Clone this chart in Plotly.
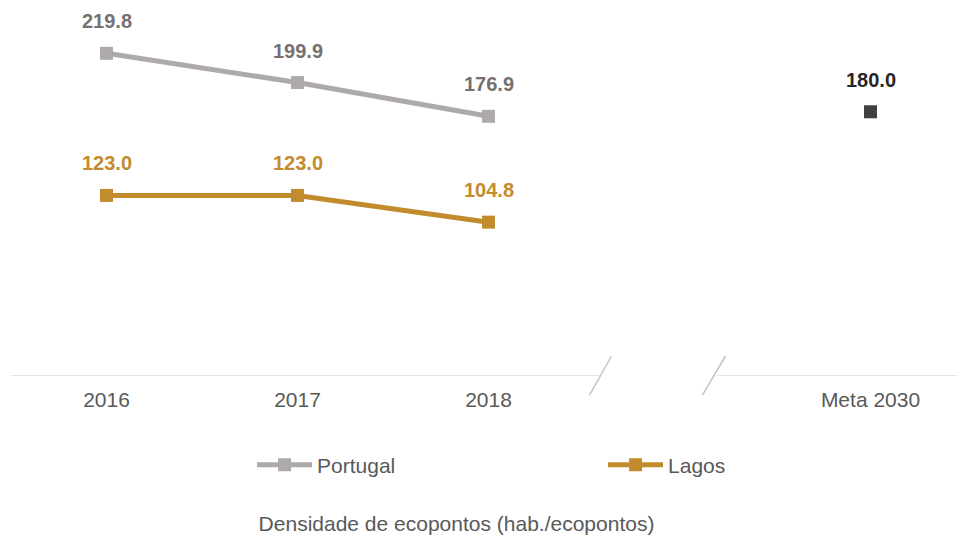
import plotly.graph_objects as go

years = ["2016", "2017", "2018"]
portugal = [219.8, 199.9, 176.9]
lagos = [123.0, 123.0, 104.8]
meta_label = "Meta 2030"
meta_value = 180.0

x_years = [0, 1, 2]
x_meta = 4

GREY = "#aeaaaa"
GREY_TXT = "#767171"
GOLD = "#c28b2d"
DARK = "#404040"
TXT = "#595959"
FONT = "Liberation Sans, Arial, sans-serif"

fig = go.Figure()
fig.add_trace(go.Scatter(x=x_years, y=portugal, mode="lines+markers", name="Portugal",
                         line=dict(color=GREY, width=5),
                         marker=dict(symbol="square", size=13, color=GREY),
                         cliponaxis=False))
fig.add_trace(go.Scatter(x=x_years, y=lagos, mode="lines+markers", name="Lagos",
                         line=dict(color=GOLD, width=5),
                         marker=dict(symbol="square", size=13, color=GOLD),
                         cliponaxis=False))
fig.add_trace(go.Scatter(x=[x_meta], y=[meta_value], mode="markers", showlegend=False,
                         marker=dict(symbol="square", size=13, color=DARK),
                         cliponaxis=False))

for xs, ys, col in ((x_years, portugal, GREY_TXT), (x_years, lagos, GOLD), ([x_meta], [meta_value], "#262626")):
    for xv, yv in zip(xs, ys):
        fig.add_annotation(x=xv, y=yv, text=f"<b>{yv:.1f}</b>", showarrow=False,
                           yshift=32, font=dict(size=20, color=col, family=FONT))

# axis baseline with break
line_col = "#d9d9d9"
fig.add_shape(type="line", xref="x", yref="y", x0=-0.5, x1=2.581, y0=0, y1=0,
              line=dict(color=line_col, width=1.5))
fig.add_shape(type="line", xref="x", yref="y", x0=3.194, x1=4.5, y0=0, y1=0,
              line=dict(color=line_col, width=1.5))
for a, b in ((2.529, 2.644), (3.120, 3.241)):
    fig.add_shape(type="line", xref="x", yref="paper", x0=a, x1=b, y0=-0.0518, y1=0.0545,
                  line=dict(color="#c4c4c4", width=1.5))

fig.update_layout(
    width=965, height=539,
    margin=dict(l=3, r=7, t=1, b=171, autoexpand=False),
    paper_bgcolor="white", plot_bgcolor="white",
    font=dict(family=FONT, color=TXT),
    xaxis=dict(range=[-0.5, 4.5], tickvals=x_years + [x_meta], ticktext=years + [meta_label],
               showgrid=False, zeroline=False, showline=False, ticks="",
               tickfont=dict(size=21, color=TXT, family=FONT), ticklabelstandoff=9),
    yaxis=dict(range=[0, 250], visible=False, showgrid=False, zeroline=False),
    legend=dict(orientation="h", x=0.2524, xanchor="left", y=-0.2425, yanchor="middle",
                font=dict(size=21, color=TXT, family=FONT), itemwidth=55,
                entrywidth=281, entrywidthmode="pixels", bgcolor="rgba(0,0,0,0)"),
    title=dict(text="Densidade de ecopontos (hab./ecopontos)", x=448.5 / 965, xref="container",
               xanchor="center", y=1 - 516 / 539, yref="container", yanchor="middle",
               font=dict(size=21, color=TXT, family=FONT)),
    showlegend=True,
)

fig.write_html("out.html")
